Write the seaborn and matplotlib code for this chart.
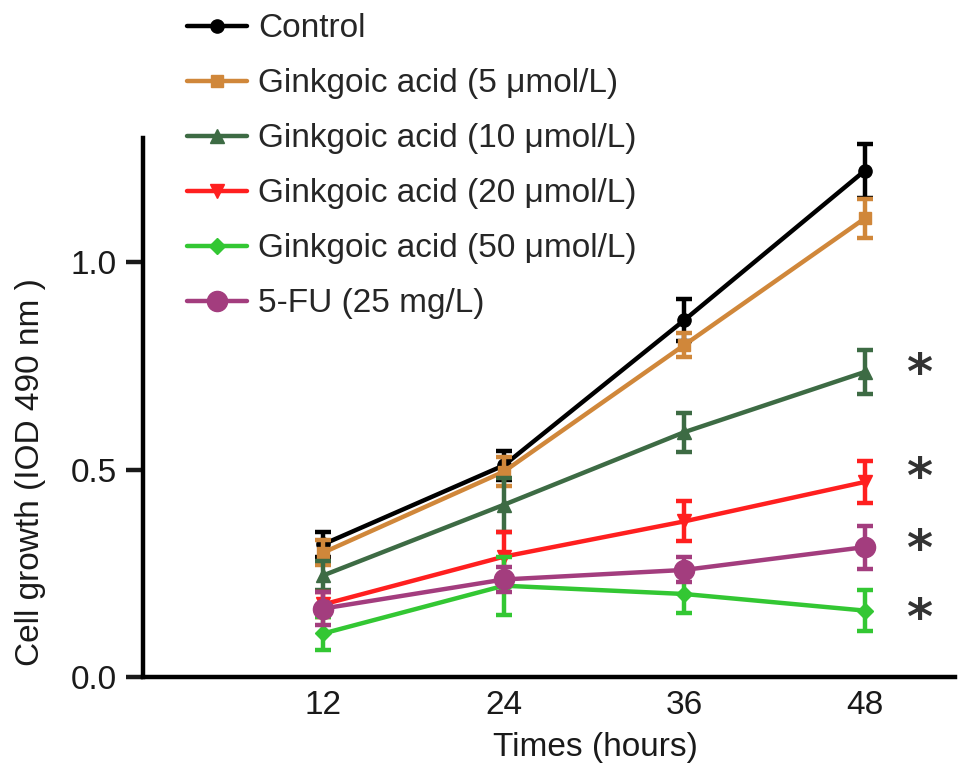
import numpy as np
import pandas as pd
import matplotlib
matplotlib.use("Agg")
import matplotlib.pyplot as plt
import matplotlib.transforms as mtransforms
import seaborn as sns

# ---- data ----
times = [12, 24, 36, 48]
series_names = [
    "Control",
    "Ginkgoic acid (5 \u03bcmol/L)",
    "Ginkgoic acid (10 \u03bcmol/L)",
    "Ginkgoic acid (20 \u03bcmol/L)",
    "Ginkgoic acid (50 \u03bcmol/L)",
    "5-FU (25 mg/L)",
]
control = [0.32, 0.51, 0.86, 1.22]
control_err = [0.03, 0.035, 0.05, 0.065]
ga5 = [0.30, 0.495, 0.80, 1.105]
ga5_err = [0.03, 0.035, 0.03, 0.047]
ga10 = [0.245, 0.415, 0.59, 0.735]
ga10_err = [0.035, 0.065, 0.047, 0.053]
ga20 = [0.175, 0.29, 0.375, 0.47]
ga20_err = [0.03, 0.06, 0.048, 0.05]
ga50 = [0.105, 0.22, 0.20, 0.16]
ga50_err = [0.04, 0.07, 0.045, 0.05]
fu = [0.165, 0.235, 0.258, 0.313]
fu_err = [0.04, 0.03, 0.03, 0.052]

star_x = [51.6, 51.6, 51.6, 51.6]
star_y = [0.745, 0.495, 0.32, 0.155]

values = [control, ga5, ga10, ga20, ga50, fu]
errors = [control_err, ga5_err, ga10_err, ga20_err, ga50_err, fu_err]

# ---- styles ----
colors = ["#000000", "#D0873A", "#3D6B44", "#FF1F1F", "#33C733", "#A33D7E"]
markers = ["o", "s", "^", "v", "D", "o"]
msizes = [9.5, 9, 9.5, 9.5, 8, 14.5]

rows = []
for name, vals, errs in zip(series_names, values, errors):
    for t, v, e in zip(times, vals, errs):
        rows.append({"series": name, "time": t, "value": v, "err": e})
df = pd.DataFrame(rows)

sns.set_style("ticks")
plt.rcParams["font.family"] = ["Liberation Sans", "DejaVu Sans"]

fig = plt.figure(figsize=(9.69, 7.81), dpi=100)
ax = fig.add_axes([143 / 969, 104 / 781, 812 / 969, 539.5 / 781])

for name, c, m, ms in zip(series_names, colors, markers, msizes):
    sub = df[df["series"] == name]
    sns.lineplot(data=sub, x="time", y="value", color=c, marker=m,
                 markersize=ms, markeredgecolor=c, markeredgewidth=1,
                 linewidth=3.2, label=name, ax=ax, errorbar=None)
    ax.errorbar(sub["time"], sub["value"], yerr=sub["err"], fmt="none",
                ecolor=c, elinewidth=3.2, capsize=5.5, capthick=3.2)

star_tr = mtransforms.offset_copy(ax.transData, fig=fig, x=0, y=-7,
                                  units="dots")
for sx, sy in zip(star_x, star_y):
    ax.text(sx, sy, "*", fontsize=36, color="#333333", ha="center",
            va="center", family="DejaVu Sans", fontweight="bold",
            transform=star_tr)

ax.set_xlim(0, 54)
ax.set_ylim(0, 1.3)
ax.set_xticks(times)
ax.set_yticks([0.0, 0.5, 1.0])
ax.set_yticklabels(["0.0", "0.5", "1.0"])
ax.tick_params(axis="x", length=0, pad=9, labelsize=24, colors="#1a1a1a")
ax.tick_params(axis="y", length=12, width=3.2, pad=7, labelsize=24,
               colors="#1a1a1a")
for s in ["top", "right"]:
    ax.spines[s].set_visible(False)
for s in ["left", "bottom"]:
    ax.spines[s].set_linewidth(3.2)
    ax.spines[s].set_color("black")

ax.set_xlabel("Times (hours)", fontsize=24, color="#1a1a1a")
ax.set_ylabel("Cell growth (IOD 490 nm )", fontsize=24, color="#1a1a1a")
ax.xaxis.set_label_coords(0.557, -0.102)
ax.yaxis.set_label_coords(-0.12, 0.38)

leg = ax.legend(loc="upper left", bbox_to_anchor=(187 / 969, 0.983),
                bbox_transform=fig.transFigure, frameon=False, fontsize=24,
                handlelength=1.8, handletextpad=0.33, labelspacing=0.72,
                borderpad=0, borderaxespad=0)

fig.savefig("out.png", dpi=100)
